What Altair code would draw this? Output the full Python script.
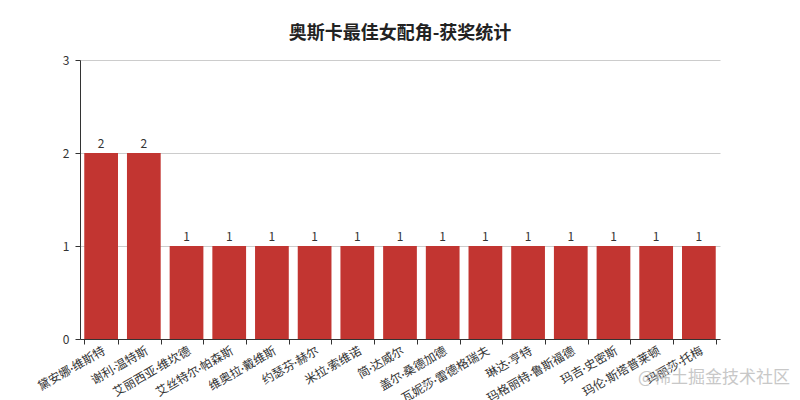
import altair as alt
import pandas as pd

names = ["黛安娜·维斯特", "谢利·温特斯", "艾丽西亚·维坎德", "艾丝特尔·帕森斯", "维奥拉·戴维斯",
         "约瑟芬·赫尔", "米拉·索维诺", "简·达威尔", "盖尔·桑德加德", "瓦妮莎·雷德格瑞夫",
         "琳达·亨特", "玛格丽特·鲁斯福德", "玛吉·史密斯", "玛伦·斯塔普莱顿", "玛丽莎·托梅"]
wins = [2, 2, 1, 1, 1, 1, 1, 1, 1, 1, 1, 1, 1, 1, 1]

df = pd.DataFrame({"name": names, "wins": wins})
FONT = "Noto Sans CJK SC"
LFONT = "Lato, Noto Sans CJK SC"

x = alt.X("name:N", sort=names, title=None,
          scale=alt.Scale(paddingInner=0.21, paddingOuter=0.1),
          axis=alt.Axis(labelAngle=-30, labelAlign="right", labelBaseline="top",
                        labelFont=LFONT, labelFontSize=12, labelColor="#333",
                        domainColor="#333", tickColor="#333", tickBand="extent",
                        tickSize=5, labelPadding=1, labelOverlap=False))
y = alt.Y("wins:Q", title=None,
          scale=alt.Scale(domain=[0, 3]),
          axis=alt.Axis(values=[0, 1, 2, 3], format="d", labelFont=FONT, labelFontSize=12,
                        labelColor="#333", domainColor="#333", tickColor="#333",
                        gridColor="#ccc", tickSize=5, labelPadding=6))

bars = alt.Chart(df).mark_bar(color="#c23531").encode(x=x, y=y)
texts = alt.Chart(df).mark_text(dy=-9, font=FONT, fontSize=12, color="#333").encode(
    x=alt.X("name:N", sort=names), y="wins:Q", text="wins:Q")
wm = alt.Chart(pd.DataFrame({"t": ["@稀土掘金技术社区"]})).mark_text(
    font=FONT, fontSize=17, color="#bbb", align="right", opacity=0.8).encode(
    x=alt.value(710), y=alt.value(318), text="t:N")

chart = (bars + texts + wm).properties(
    width=640, height=279,
    autosize=alt.AutoSizeParams(type="none"),
    padding={"left": 72, "top": 52, "right": 72, "bottom": 61},
    title=alt.TitleParams("奥斯卡最佳女配角-获奖统计", font=FONT, fontSize=18,
                          fontWeight="bold", color="#222", anchor="middle", offset=11),
).configure_view(stroke=None)

chart.save("out.html", embed_options={"renderer": "svg", "actions": False})
